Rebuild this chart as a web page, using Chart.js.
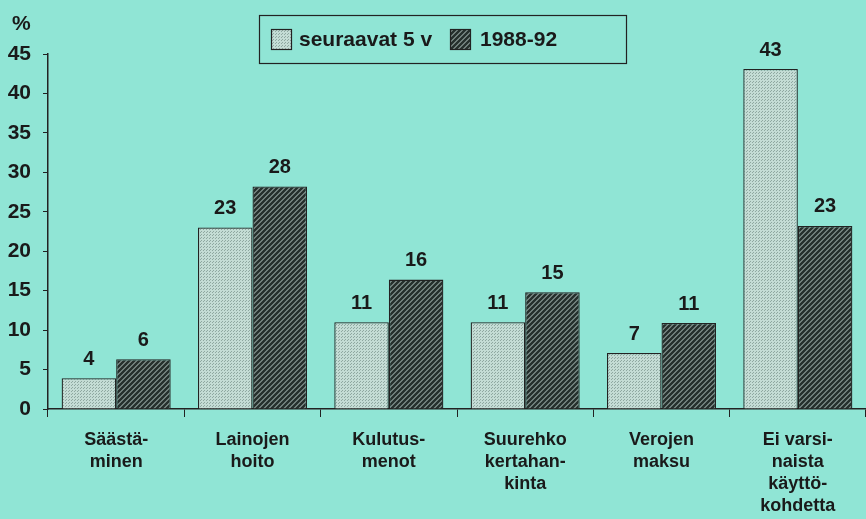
<!DOCTYPE html>
<html>
<head>
<meta charset="utf-8">
<script src="https://cdn.jsdelivr.net/npm/chart.js@4/dist/chart.umd.min.js"></script>
<style>
  body { margin: 0; background: #90e5d5; }
  #wrap { width: 866px; height: 519px; }
</style>
</head>
<body>
<div id="wrap"><canvas id="chart"></canvas></div>
<script>
// data
const categories = [
  ["Säästä-", "minen"],
  ["Lainojen", "hoito"],
  ["Kulutus-", "menot"],
  ["Suurehko", "kertahan-", "kinta"],
  ["Verojen", "maksu"],
  ["Ei varsi-", "naista", "käyttö-", "kohdetta"]
];
const seriesNames = ["seuraavat 5 v", "1988-92"];
const nextFive = [3.9, 23, 11, 11, 7.1, 43.1];
const years8892 = [6.3, 28.2, 16.4, 14.8, 10.9, 23.2];
const shownNext = [4, 23, 11, 11, 7, 43];
const shown8892 = [6, 28, 16, 15, 11, 23];
const yTicks = [0, 5, 10, 15, 20, 25, 30, 35, 40, 45];

const FONT = "'Liberation Sans', Arial, sans-serif";

function dotPattern() {
  const c = document.createElement("canvas");
  c.width = 3; c.height = 3;
  const g = c.getContext("2d");
  g.fillStyle = "#c4dcd5";
  g.fillRect(0, 0, 3, 3);
  g.fillStyle = "#8fa8a1";
  g.fillRect(0, 0, 1, 1);
  g.fillRect(2, 1, 1, 1);
  return g.createPattern(c, "repeat");
}
function hatchPattern() {
  const c = document.createElement("canvas");
  c.width = 5; c.height = 5;
  const g = c.getContext("2d");
  g.fillStyle = "#8e9e9a";
  g.fillRect(0, 0, 5, 5);
  g.strokeStyle = "#26302d";
  g.lineWidth = 2.5;
  g.beginPath();
  g.moveTo(-1, 6); g.lineTo(6, -1);
  g.moveTo(-1, 1); g.lineTo(1, -1);
  g.moveTo(4, 6); g.lineTo(6, 4);
  g.stroke();
  return g.createPattern(c, "repeat");
}
const fillA = dotPattern();
const fillB = hatchPattern();

const extras = {
  id: "extras",
  afterDatasetsDraw(chart) {
    const ctx = chart.ctx;
    ctx.save();
    ctx.fillStyle = "#1a1a1a";
    ctx.font = "bold 20px " + FONT;
    ctx.textAlign = "center";
    ctx.textBaseline = "bottom";
    const labelSets = [shownNext, shown8892];
    chart.data.datasets.forEach((ds, i) => {
      chart.getDatasetMeta(i).data.forEach((bar, j) => {
        ctx.fillText(String(labelSets[i][j]), bar.x, bar.y - 9);
      });
    });
    // % title
    ctx.font = "bold 21px " + FONT;
    ctx.textAlign = "left";
    ctx.textBaseline = "middle";
    ctx.fillText("%", 12, 24);
    // legend
    ctx.strokeStyle = "#222";
    ctx.lineWidth = 1.2;
    ctx.strokeRect(259.5, 15.5, 367, 48);
    const items = [[271, 299, fillA], [450, 480, fillB]];
    items.forEach((it, i) => {
      ctx.fillStyle = it[2];
      ctx.fillRect(it[0], 29, 20, 20);
      ctx.strokeRect(it[0] + 0.5, 29.5, 20, 20);
      ctx.fillStyle = "#1a1a1a";
      ctx.fillText(seriesNames[i], it[1], 40);
    });
    ctx.restore();
  }
};

new Chart(document.getElementById("chart"), {
  type: "bar",
  data: {
    labels: categories,
    datasets: [
      { label: seriesNames[0], data: nextFive, backgroundColor: fillA, borderColor: "#222", borderWidth: 1.3 },
      { label: seriesNames[1], data: years8892, backgroundColor: fillB, borderColor: "#222", borderWidth: 1.3 }
    ]
  },
  options: {
    responsive: true,
    maintainAspectRatio: false,
    animation: false,
    layout: { padding: { top: 54, right: 0, left: 0, bottom: 0 } },
    plugins: { legend: { display: false }, tooltip: { enabled: false } },
    datasets: { bar: { categoryPercentage: 0.8, barPercentage: 1 } },
    scales: {
      x: {
        offset: true,
        afterFit(s) { s.height = 110; },
        grid: { offset: true, drawOnChartArea: false, tickLength: 8, color: "#222" },
        border: { color: "#222", width: 1.5 },
        ticks: { color: "#1a1a1a", padding: 12, font: { family: FONT, size: 18, weight: "bold", lineHeight: 1.23 } }
      },
      y: {
        min: 0,
        max: 45,
        afterFit(s) { s.width = 48; },
        afterBuildTicks(s) { s.ticks = yTicks.map(v => ({ value: v })); },
        grid: { drawOnChartArea: false, tickLength: 5, color: "#222" },
        border: { color: "#222", width: 1.5 },
        ticks: { color: "#1a1a1a", padding: 12, font: { family: FONT, size: 21, weight: "bold" } }
      }
    }
  },
  plugins: [extras]
});
</script>
</body>
</html>
